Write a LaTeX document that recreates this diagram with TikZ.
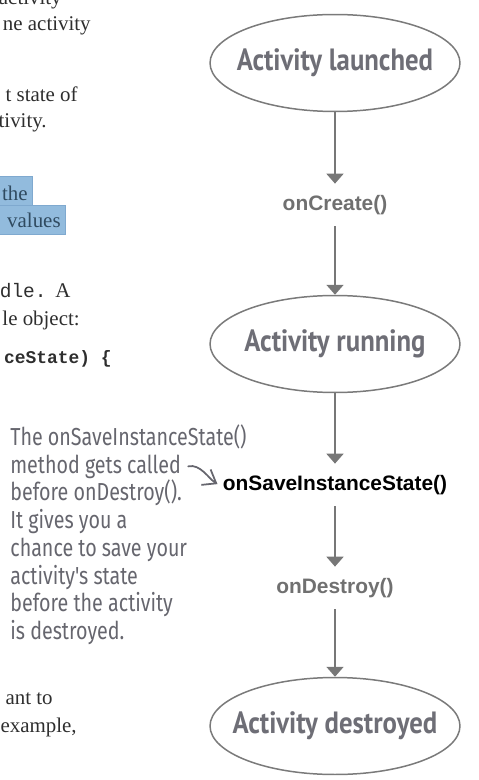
\documentclass[tikz,border=0pt]{standalone}
\usepackage{fontspec}
\setmainfont{Liberation Serif}
\setsansfont{Liberation Sans}
\setmonofont{Liberation Mono}
\newfontfamily\statefont[FakeStretch=0.87]{PT Sans}
\newfontfamily\handfont[FakeStretch=0.8]{Fira Sans}
\usepackage{tikz}
\usetikzlibrary{shapes.geometric,arrows.meta,positioning}
\definecolor{edgegray}{HTML}{7A7A7A}
\definecolor{stategray}{HTML}{6E6E76}
\definecolor{callgray}{HTML}{707070}
\definecolor{arrowgray}{HTML}{777777}
\definecolor{notegray}{HTML}{66666E}
\definecolor{bookgray}{HTML}{2E2E2E}
\definecolor{hlfill}{HTML}{92BBDD}
\definecolor{hledge}{HTML}{7FA9CF}
\definecolor{hltext}{HTML}{2F4A60}

\begin{document}
\begin{tikzpicture}[x=0.02cm,y=-0.02cm,
  state/.style={ellipse,draw=edgegray,line width=0.85pt,minimum width=5cm,minimum height=1.94cm,inner xsep=-0.6cm,inner ysep=0pt,text=stategray,font=\statefont\bfseries\fontsize{17.5}{19}\selectfont},
  call/.style={minimum height=0.84cm,inner sep=2pt,text=callgray,font=\sffamily\bfseries\fontsize{11.9}{14}\selectfont},
  flow/.style={draw=arrowgray,line width=1.1pt,-{Triangle[length=2mm,width=3.4mm]}},
  book/.style={inner sep=0pt,text=bookgray,font=\fontsize{11.9}{14}\selectfont},
  note/.style={inner sep=0pt,anchor=base west,text=notegray,font=\handfont\fontsize{14}{16}\selectfont}]
\useasboundingbox (0,0) rectangle (478,780);

% page text cut at the left edge
\node at (62,5)[book,anchor=base east]{activity};
\node at (91,31)[book,anchor=base east]{ne activity};
\node at (78,102)[book,anchor=base east]{t state of};
\node at (47,128)[book,anchor=base east]{tivity.};
\draw[fill=hlfill,draw=hledge](-2,176) rectangle (32,205);
\draw[fill=hlfill,draw=hledge](-2,205) rectangle (65,234);
\node at (28,201)[book,anchor=base east,text=hltext]{the};
\node at (61,228)[book,anchor=base east,text=hltext]{values};
\node at (47,297)[book,anchor=base east,font=\ttfamily\fontsize{11.1}{13}\selectfont]{dle.};
\node at (55,297)[book,anchor=base west]{A};
\node at (80,325)[book,anchor=base east]{le object:};
\node at (112,363)[book,anchor=base east,font=\ttfamily\bfseries\fontsize{10.2}{12}\selectfont]{ceState) \{};
\node at (53,704)[book,anchor=base east]{ant to};
\node at (77,732)[book,anchor=base east]{example,};

% life cycle
\node (launched) at (335,63)[state]{Activity launched};
\node (create) at (335,205)[call]{onCreate()};
\node (running) at (335,344)[state]{Activity running};
\node (save) at (335,485)[call,text=black]{onSaveInstanceState()};
\node (destroy) at (335,588)[call]{onDestroy()};
\node (destroyed) at (335,726)[state]{Activity destroyed};
\draw[flow](launched)--(create);
\draw[flow](create)--(running);
\draw[flow](running)--(save);
\draw[flow](save)--(destroy);
\draw[flow](destroy)--(destroyed);

% handwritten note
\node (note1) at (10,445)[note]{The onSaveInstanceState()};
\node (note2) at (10,473)[note]{method gets called};
\node (note3) at (10,500)[note]{before onDestroy().};
\node (note4) at (10,528)[note]{It gives you a};
\node (note5) at (10,556)[note]{chance to save your};
\node (note6) at (10,584)[note]{activity's state};
\node (note7) at (10,611)[note]{before the activity};
\node (note8) at (10,639)[note]{is destroyed.};
\draw[notegray,line width=1pt,line cap=round,-{Straight Barb[length=2.4mm,width=3.6mm]},shorten >=1pt]
  ([xshift=4pt]note2.east) .. controls +(12,-3) and +(-10,-6) .. (save.west);
\end{tikzpicture}
\end{document}
